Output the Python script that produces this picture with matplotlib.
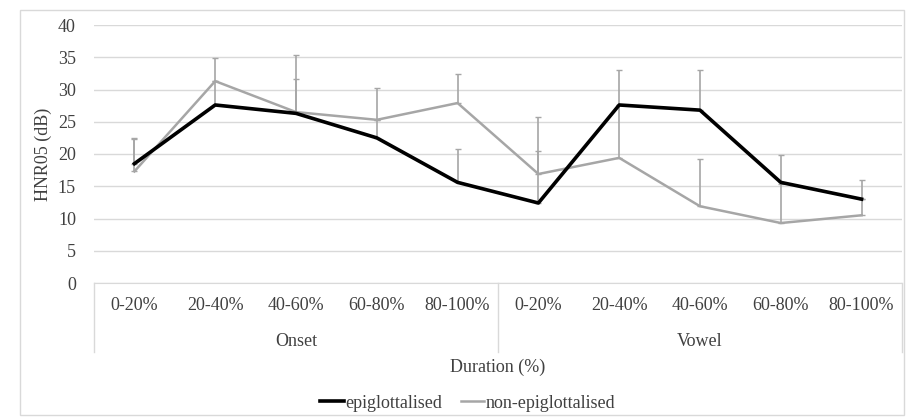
import numpy as np
import matplotlib.pyplot as plt
from matplotlib.patches import Rectangle
from matplotlib.lines import Line2D
import matplotlib.transforms as mtransforms

plt.rcParams['font.family'] = ['Liberation Serif', 'DejaVu Serif']

# dane
kategorie = ['0-20%', '20-40%', '40-60%', '60-80%', '80-100%',
             '0-20%', '20-40%', '40-60%', '60-80%', '80-100%']
grupy = ['Onset', 'Vowel']
epi = [18.5, 27.6, 26.3, 22.5, 15.6, 12.4, 27.6, 26.8, 15.6, 13.0]
epi_err = [4.0, 3.7, 5.3, 2.8, 5.2, 8.1, 5.5, 6.2, 4.3, 2.9]
non_epi = [17.3, 31.3, 26.5, 25.3, 27.9, 16.9, 19.4, 11.9, 9.3, 10.5]
non_epi_err = [5.0, 3.6, 8.8, 5.0, 4.5, 8.9, 8.2, 7.4, 6.0, 2.5]

W, H = 906, 420
fs = 13
tekst = '#404040'
fig = plt.figure(figsize=(W / 100, H / 100), dpi=100)
ax = fig.add_axes([94 / W, 1 - 283 / H, (902 - 94) / W, (283 - 25) / H])

x = np.arange(len(kategorie))
szary = '#a6a6a6'
siatka = '#d9d9d9'

ax.errorbar(x, non_epi, yerr=[np.zeros(len(x)), non_epi_err], fmt='none',
            ecolor=szary, elinewidth=1.2, capsize=2, zorder=3)
ax.errorbar(x, epi, yerr=[np.zeros(len(x)), epi_err], fmt='none',
            ecolor=szary, elinewidth=1.2, capsize=2, zorder=3)
ax.plot(x, non_epi, color=szary, lw=1.8, zorder=4, label='non-epiglottalised')
ax.plot(x, epi, color='black', lw=2.6, zorder=5, label='epiglottalised')

ax.set_xlim(-0.5, len(x) - 0.5)
ax.set_ylim(0, 40)
ax.set_yticks(range(0, 41, 5))
ax.grid(axis='y', color=siatka, lw=1)
ax.set_axisbelow(True)
for s in ['left', 'right', 'top']:
    ax.spines[s].set_visible(False)
ax.spines['bottom'].set_color(siatka)
ax.tick_params(axis='y', length=0, pad=13, labelsize=fs, colors=tekst)
ax.set_xticks(x)
ax.set_xticklabels(kategorie)
ax.tick_params(axis='x', length=0, pad=10, labelsize=fs, colors=tekst)
ax.set_ylabel('HNR05 (dB)', fontsize=fs, color=tekst, labelpad=4)

# pudełko z kategoriami
tr = mtransforms.blended_transform_factory(ax.transData, ax.transAxes)
dol = -(352 - 283) / (283 - 25)
for xv in [-0.5, 4.5, 9.5]:
    ax.add_line(Line2D([xv, xv], [0, dol], transform=tr, color=siatka,
                       lw=1, clip_on=False))
for i, g in enumerate(grupy):
    ax.text(2 + 5 * i, -(341 - 283) / (283 - 25), g, transform=tr,
            ha='center', va='center', fontsize=fs, color=tekst)

fig.text(498 / W, 1 - 367 / H, 'Duration (%)', ha='center', va='center',
         fontsize=fs, color=tekst)

h, l = ax.get_legend_handles_labels()
fig.legend(h[::-1], l[::-1], loc='center', bbox_to_anchor=(468 / W, 1 - 403 / H),
           ncol=2, frameon=False, fontsize=fs, handlelength=1.3,
           handletextpad=0.1, columnspacing=1.0, labelcolor=tekst)

fig.patches.append(Rectangle((20 / W, 1 - 415 / H), (904 - 20) / W, (415 - 10) / H,
                             transform=fig.transFigure, fill=False,
                             edgecolor=siatka, lw=1))

fig.savefig('out.png', dpi=100)
